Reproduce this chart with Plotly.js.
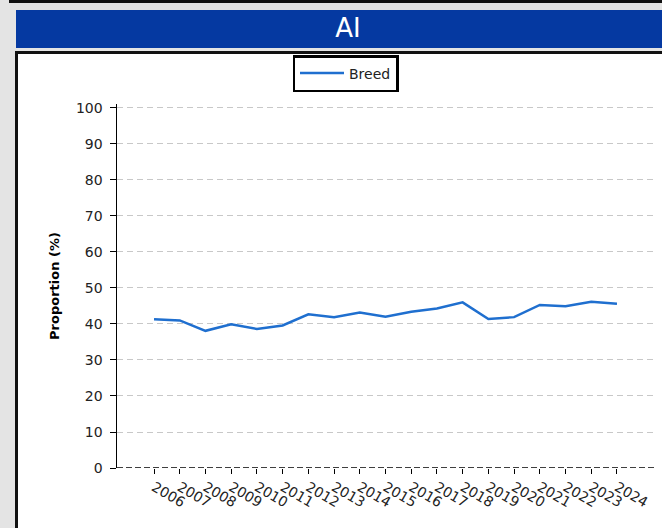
<!DOCTYPE html>
<html>
<head>
<meta charset="utf-8">
<script src="https://cdn.plot.ly/plotly-3.0.1.min.js"></script>
<style>
  html, body { margin: 0; padding: 0; width: 662px; height: 528px; overflow: hidden; background: #e4e4e4; }
  #topbox { position: absolute; left: 9px; top: -17px; width: 700px; height: 20px; border: 3px solid #111; box-sizing: border-box; background: #e4e4e4; }
  #banner { position: absolute; left: 16px; top: 10px; width: 680px; height: 38px; background: #0539a1; }
  #panel { position: absolute; left: 15px; top: 51px; width: 700px; height: 520px; border: 3px solid #111; box-sizing: border-box; background: #ffffff; }
  #chart { position: absolute; left: 0; top: 0; width: 662px; height: 528px; }
</style>
</head>
<body>
<div id="topbox"></div>
<div id="banner"></div>
<div id="panel"></div>
<div id="chart"></div>
<script>
const years = [2006, 2007, 2008, 2009, 2010, 2011, 2012, 2013, 2014, 2015,
               2016, 2017, 2018, 2019, 2020, 2021, 2022, 2023, 2024];
const breed = [41.3, 41.0, 38.1, 39.9, 38.6, 39.6, 42.7, 41.9, 43.2, 42.0,
               43.4, 44.3, 46.0, 41.4, 41.9, 45.3, 44.9, 46.2, 45.6];
const yTicks = [0, 10, 20, 30, 40, 50, 60, 70, 80, 90, 100];
const chartTitle = 'AI';
const seriesName = 'Breed';
const yTitle = 'Proportion (%)';

const font = 'DejaVu Sans, sans-serif';

const trace = {
  x: years,
  y: breed,
  type: 'scatter',
  mode: 'lines',
  name: seriesName,
  line: { color: '#1f6fcf', width: 2.5 },
  showlegend: true
};

const layout = {
  width: 662,
  height: 528,
  margin: { l: 117, r: 8, t: 104, b: 60, pad: 0 },
  paper_bgcolor: 'rgba(0,0,0,0)',
  plot_bgcolor: 'rgba(0,0,0,0)',
  font: { family: font, size: 14, color: '#222' },
  title: {
    text: chartTitle,
    font: { family: font, size: 26, color: '#ffffff' },
    x: 348 / 662,
    xanchor: 'center',
    xref: 'container',
    y: 1 - 28 / 528,
    yanchor: 'middle',
    yref: 'container'
  },
  showlegend: true,
  legend: {
    x: (345.5 - 117) / 537,
    xanchor: 'center',
    y: (468 - 55) / 364,
    yanchor: 'top',
    bgcolor: '#ffffff',
    bordercolor: '#000000',
    borderwidth: 2.5,
    itemwidth: 44,
    font: { family: font, size: 14, color: '#222' }
  },
  xaxis: {
    range: [2004.56, 2025.44],
    tickmode: 'array',
    tickvals: years,
    ticktext: years.map(String),
    tickangle: 30,
    ticks: 'outside',
    ticklen: 5,
    tickwidth: 1,
    tickcolor: '#000',
    showgrid: false,
    zeroline: false,
    showline: false,
    tickfont: { family: font, size: 14, color: '#222' },
    fixedrange: true
  },
  yaxis: {
    range: [0, 101.1],
    tickmode: 'array',
    tickvals: yTicks,
    ticks: 'outside',
    ticklen: 6,
    tickwidth: 1,
    tickcolor: '#000',
    ticklabelstandoff: 4,
    showgrid: true,
    gridcolor: '#c8c8c8',
    gridwidth: 1,
    griddash: '6px,4px',
    zeroline: false,
    showline: true,
    linecolor: '#000',
    linewidth: 1.5,
    tickfont: { family: font, size: 14, color: '#222' },
    title: {
      text: yTitle,
      font: { family: font, size: 13, color: '#000', weight: 'bold' },
      standoff: 13
    },
    fixedrange: true
  },
  shapes: [
    {
      type: 'line', xref: 'paper', yref: 'y',
      x0: 0, x1: 1, y0: 0, y1: 0,
      line: { color: '#000', width: 1.5, dash: '6px,3px' },
      layer: 'above'
    }
  ]
};

Plotly.newPlot('chart', [trace], layout, { displayModeBar: false, staticPlot: true });
</script>
</body>
</html>
